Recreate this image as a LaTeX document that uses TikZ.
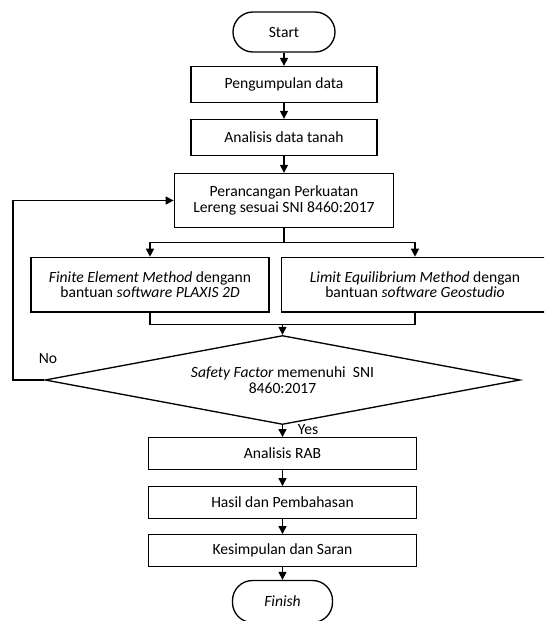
\documentclass[tikz,border=0pt]{standalone}
\usepackage{fontspec}
\setmainfont{Carlito}
\usetikzlibrary{shapes.geometric,arrows.meta}
\begin{document}
\begin{tikzpicture}[x=0.75pt,y=-0.75pt,
  every node/.style={font=\fontsize{11.7}{11.9}\selectfont},
  box/.style={draw, line width=1pt, inner sep=0pt, align=center},
  term/.style={box, rounded corners=15pt},
  arr/.style={line width=1pt, -{Triangle[width=6pt,length=6pt]}},
  ln/.style={line width=1pt}]
\clip (0,0) rectangle (544,621);
% nodes
\node[term, minimum width=76.5pt, minimum height=30pt] (start) at (284,32) {Start};
\node[box, minimum width=139.5pt, minimum height=27pt] (peng) at (284,84.5) {Pengumpulan data};
\node[box, minimum width=139.5pt, minimum height=27pt] (anal) at (284,137.5) {Analisis data tanah};
\node[box, minimum width=164.6pt, minimum height=40.5pt] (ranc) at (284,200.5) {Perancangan Perkuatan\\Lereng sesuai SNI 8460:2017};
\node[box, minimum width=178.5pt, minimum height=41pt] (fem) at (150,284.7) {\textit{Finite Element Method} dengann\\bantuan \textit{software PLAXIS 2D}};
\node[box, minimum width=200.5pt, minimum height=41pt] (lem) at (415,284.7) {\textit{Limit Equilibrium Method} dengan\\bantuan \textit{software Geostudio}};
\node[draw, diamond, aspect=5.3, line width=1pt, inner sep=0pt, minimum width=356.25pt, minimum height=66.75pt, align=center] (dec) at (282.5,380) {\textit{Safety Factor} memenuhi\ \ SNI\\8460:2017};
\node[box, minimum width=201pt, minimum height=23.7pt] (rab) at (282.5,453.5) {Analisis RAB};
\node[box, minimum width=201pt, minimum height=23.7pt] (hasil) at (282.5,502.5) {Hasil dan Pembahasan};
\node[box, minimum width=201pt, minimum height=23.7pt] (kes) at (282.5,550.5) {Kesimpulan dan Saran};
\node[term, minimum width=75pt, minimum height=31.5pt] (fin) at (282.5,601.5) {\textit{Finish}};
\node (yes) at (308,430) {Yes};
\node (no) at (48,359) {No};
% connectors
\coordinate (split) at (284,242.5);
\coordinate (merge) at (282.5,324.3);
\coordinate (loop) at (13,380);
\draw[arr] (start) -- (peng);
\draw[arr] (peng) -- (anal);
\draw[arr] (anal) -- (ranc);
\draw[ln] (ranc.south) -- (split);
\draw[arr] (split) -| (fem.north);
\draw[arr] (split) -| (lem.north);
\draw[ln] (fem.south) |- (merge);
\draw[ln] (lem.south) |- (merge);
\draw[arr] (merge) -- (dec.north);
\draw[arr] (dec.south) -- (rab.north);
\draw[arr] (rab) -- (hasil);
\draw[arr] (hasil) -- (kes);
\draw[arr] (kes) -- (fin);
\draw[arr] (dec.west) -- (loop) |- (ranc.west);
\end{tikzpicture}
\end{document}
